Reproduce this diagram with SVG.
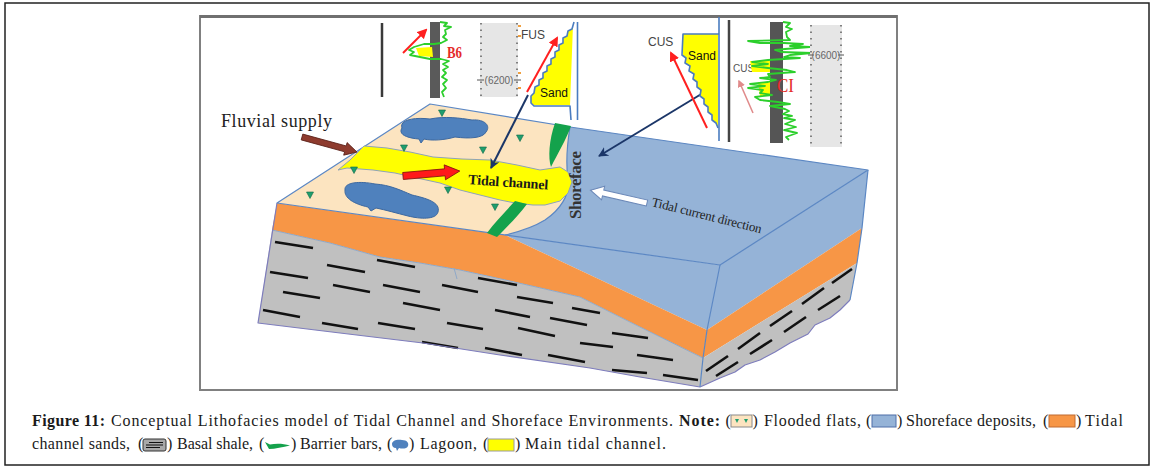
<svg xmlns="http://www.w3.org/2000/svg" width="1159" height="472" viewBox="0 0 1159 472">
<defs>
<style>
.cap{font-family:"Liberation Serif","Times New Roman",serif;font-size:16px;fill:#1a1a1a}
.b{font-weight:bold}
.sans{font-family:"Liberation Sans",Arial,sans-serif}
.ser{font-family:"Liberation Serif","Times New Roman",serif}
.edge{fill:none;stroke:#5b87c4;stroke-width:1.2;stroke-linejoin:round}
.pedge{fill:none;stroke:#7d7cbc;stroke-width:1.2;stroke-linejoin:round}
.dash{stroke:#111;stroke-width:2.6}
.lag{fill:#4f81bd;stroke:#3c68a0;stroke-width:1}
.bar{fill:#14a24c}
.gl{fill:none;stroke:#2ccf2c;stroke-width:1.8;stroke-linejoin:round}
.track{fill:#e6e6e6}
.dots{stroke:#555;stroke-width:1.4;stroke-dasharray:1.5 5}
.blue{fill:none;stroke:#4a7cc0;stroke-width:1.6;stroke-linejoin:round}
.red{stroke:#ff2020;stroke-width:2;fill:none}
.navy{stroke:#1b3668;stroke-width:2;fill:none}
</style>
<marker id="hRed" viewBox="0 0 10 10" refX="8" refY="5" markerWidth="5" markerHeight="5" orient="auto"><path d="M0,0 L10,5 L0,10 Z" fill="#ff2020"/></marker>
<marker id="hPink" viewBox="0 0 10 10" refX="8" refY="5" markerWidth="5" markerHeight="5" orient="auto"><path d="M0,0 L10,5 L0,10 Z" fill="#e08a8a"/></marker>
<marker id="hNavy" viewBox="0 0 10 10" refX="9" refY="5" markerWidth="5" markerHeight="5" orient="auto"><path d="M0,0 L10,5 L0,10 L3,5 Z" fill="#1b3668"/></marker>
<path id="t" d="M-3.5,-3 L3.5,-3 L0,3.5 Z" fill="#1f9e6e" stroke="#0f6a48" stroke-width="0.6"/>
</defs>

<rect x="0" y="0" width="1159" height="472" fill="#ffffff"/>
<rect x="5" y="3" width="1144" height="462" fill="none" stroke="#222" stroke-width="1.5"/>
<g id="frame">
<rect x="200" y="16" width="697" height="374" fill="none" stroke="#808080" stroke-width="2"/>
<line x1="200" y1="16.5" x2="897" y2="16.5" stroke="#707070" stroke-width="3"/>
</g>

<g id="block-front">
<polygon points="505,235 720,265 707,330" fill="#95b3d7"/>
<path d="M277,203 L505,235 L707,330 L703,358 L640,327 L580,297 L545,289 L510,281 L460,270 L420,263 L380,257 L330,243 L272,230 Z" fill="#f79646"/>
<path d="M272,230 L330,243 L380,257 L420,263 L460,270 L510,281 L545,289 L580,297 L640,327 L703,358 L700,387 L640,377 L590,368 L500,355 L423,343 L340,333 L258,323 Z" fill="#c0c0c0"/>
<path d="M272,230 L330,243 L380,257 L420,263 L460,270 L510,281 L545,289 L580,297 L640,327 L703,358" fill="none" stroke="#8fa8c8" stroke-width="1"/>
<line x1="454" y1="268" x2="457" y2="279" stroke="#8fa8c8" stroke-width="1"/>
</g>
<g id="block-side">
<polygon points="720,265 868,170 862,228 707,330" fill="#95b3d7"/>
<polygon points="707,330 862,228 857,263 703,358" fill="#f79646"/>
<path d="M703,358 L857,263 L850,300 L840,310 L830,318 L815,325 L808,334 L790,343 L775,352 L760,360 L745,365 L735,372 L720,378 L700,387 Z" fill="#c0c0c0"/>
</g>
<g id="shale-dashes">
<line class="dash" x1="275" y1="242" x2="313" y2="248"/>
<line class="dash" x1="327" y1="265" x2="365" y2="272"/>
<line class="dash" x1="377" y1="260" x2="415" y2="267"/>
<line class="dash" x1="270" y1="272" x2="308" y2="278"/>
<line class="dash" x1="333" y1="285" x2="370" y2="292"/>
<line class="dash" x1="383" y1="285" x2="420" y2="292"/>
<line class="dash" x1="442" y1="285" x2="478" y2="292"/>
<line class="dash" x1="478" y1="278" x2="517" y2="285"/>
<line class="dash" x1="283" y1="292" x2="320" y2="298"/>
<line class="dash" x1="403" y1="303" x2="440" y2="310"/>
<line class="dash" x1="517" y1="297" x2="553" y2="303"/>
<line class="dash" x1="495" y1="310" x2="530" y2="317"/>
<line class="dash" x1="263" y1="310" x2="300" y2="317"/>
<line class="dash" x1="322" y1="323" x2="358" y2="329"/>
<line class="dash" x1="378" y1="323" x2="415" y2="329"/>
<line class="dash" x1="447" y1="323" x2="483" y2="329"/>
<line class="dash" x1="518" y1="328" x2="555" y2="336"/>
<line class="dash" x1="550" y1="318" x2="587" y2="325"/>
<line class="dash" x1="572" y1="308" x2="600" y2="313"/>
<line class="dash" x1="422" y1="342" x2="458" y2="348"/>
<line class="dash" x1="485" y1="348" x2="522" y2="355"/>
<line class="dash" x1="548" y1="355" x2="585" y2="362"/>
<line class="dash" x1="612" y1="333" x2="648" y2="338"/>
<line class="dash" x1="580" y1="343" x2="613" y2="347"/>
<line class="dash" x1="637" y1="355" x2="673" y2="360"/>
<line class="dash" x1="612" y1="370" x2="647" y2="373"/>
<line class="dash" x1="663" y1="375" x2="698" y2="380"/>
<line class="dash" x1="706" y1="371" x2="728" y2="356"/>
<line class="dash" x1="738" y1="349" x2="760" y2="333"/>
<line class="dash" x1="770" y1="326" x2="792" y2="311"/>
<line class="dash" x1="802" y1="304" x2="824" y2="288"/>
<line class="dash" x1="832" y1="283" x2="852" y2="269"/>
<line class="dash" x1="716" y1="376" x2="738" y2="362"/>
<line class="dash" x1="750" y1="354" x2="772" y2="340"/>
<line class="dash" x1="784" y1="332" x2="806" y2="317"/>
<line class="dash" x1="818" y1="310" x2="840" y2="296"/>
</g>
<g id="block-edges">
<path class="pedge" d="M277,203 L258,323 L340,333 L423,343 L500,355 L590,368 L640,377 L700,387 L720,378 L735,372 L745,365 L760,360 L775,352 L790,343 L808,334 L815,325 L830,318 L840,310 L850,300"/>
<path class="edge" d="M720,265 L707,330 L703,358 L700,387 M868,170 L862,228 L857,263 L850,300"/>
</g>

<g id="top-surface">
<polygon points="277,203 430,104 570,127 868,170 720,265" fill="#fce4c0"/>
<path d="M570,127 L868,170 L720,265 L505,235 C518,232 532,228 545,220 C560,210 570,195 568,180 C566,165 567,145 570,127 Z" fill="#95b3d7"/>
<path class="edge" d="M570,127 C567,145 566,165 568,180 C570,195 560,210 545,220 C532,228 518,232 505,235"/>
<polygon class="edge" points="277,203 430,104 570,127 868,170 720,265"/>
</g>

<g id="tidal-channel">
<path d="M364,146 L387,148 L410,152 L433,157 L462,159 L490,160 L517,165 L540,170 L560,167 L568,172 L572,182 L568,193 L560,201 L545,205 L533,205 L515,203 L500,200 L480,195 L460,190 L440,183 L417,178 L395,173 L373,170 L347,168 L338,170 L350,160 Z" fill="#ffff00" stroke="#8ea3b8" stroke-width="1"/>
</g>
<g id="lagoons">
<path class="lag" d="M402,128 C399,120 414,117 430,119 C445,116 460,118 472,120 C485,119 491,126 486,132 C483,138 470,139 455,137 C445,140 432,141 424,139 L421,143 L419,139 C406,138 398,134 402,128 Z"/>
<path class="lag" d="M345,190 C344,182 360,181 375,184 C390,185 400,190 412,195 C425,198 441,202 438,212 C436,220 420,219 408,216 C396,213 386,210 376,208 L371,211 L368,207 C354,204 344,198 345,190 Z"/>
</g>
<g id="barrier-bars">
<path class="bar" d="M555,123 L571,126 C566,140 558,153 551,167 C548,158 549,140 555,123 Z"/>
<path class="bar" d="M515,201 L527,204 C518,216 506,228 497,237 L487,233 C495,222 505,212 515,201 Z"/>
</g>
<g id="flooded-flat-marks">
<use href="#t" x="442" y="113"/>
<use href="#t" x="520" y="138"/>
<use href="#t" x="404" y="148"/>
<use href="#t" x="483" y="150"/>
<use href="#t" x="354" y="170"/>
<use href="#t" x="448" y="190"/>
<use href="#t" x="310" y="195"/>
<use href="#t" x="495" y="207"/>
</g>

<g id="labels">
<text class="ser" x="221" y="127" font-size="18" fill="#222" textLength="111">Fluvial supply</text>
<text class="ser b" x="468" y="184" font-size="14" fill="#1a1a1a" transform="rotate(4 468 184)" textLength="80">Tidal channel</text>
<text class="ser b" font-size="17" fill="#333" text-anchor="middle" transform="translate(581 185) rotate(-90)" textLength="68">Shoreface</text>
<text class="ser" x="651" y="206" font-size="13" fill="#222" transform="rotate(14 651 206)" textLength="113">Tidal current direction</text>
</g>

<g id="connectors">
<path d="M0,-3 L45,-3 L45,-6.5 L57,0 L45,6.5 L45,3 L0,3 Z" fill="#8e3b2e" stroke="#5a2018" stroke-width="0.8" transform="translate(302 137) rotate(15.3)"/>
<path d="M0,-3.5 L42,-3.5 L42,-7.5 L57,0 L42,7.5 L42,3.5 L0,3.5 Z" fill="#ff1a1a" stroke="#7a1010" stroke-width="0.8" transform="translate(403 176) rotate(-5)"/>
<path d="M0,-3 L45,-3 L45,-7 L58,0 L45,7 L45,3 L0,3 Z" fill="#ffffff" stroke="#6b88b8" stroke-width="1" transform="translate(647 203) rotate(192.8)"/>
<line class="navy" x1="528" y1="95" x2="491" y2="168" marker-end="url(#hNavy)"/>
<line class="navy" x1="703" y1="93" x2="599" y2="156" marker-end="url(#hNavy)"/>
</g>

<g id="log-b6">
<line x1="382" y1="23" x2="382" y2="97" stroke="#3a3a3a" stroke-width="2.5"/>
<line class="red" x1="403" y1="53" x2="426" y2="30" marker-end="url(#hRed)"/>
<rect x="430" y="22" width="10" height="76" fill="#5a5a5a"/>
<polygon points="416,48 432,47 433,57 419,56" fill="#ffff00"/>
<polyline class="gl" points="440,22 447,23 444,26 451,27 445,30 446,34 443,37 447,40 441,43 434,44 424,44 414,47 409,50 414,52 410,55 420,57 430,59 441,59 449,61 443,64 448,67 443,70 446,73 442,77 447,80 443,84 446,88 442,92 444,97"/>
<text class="ser b" x="447" y="58" font-size="16" fill="#e52b2b" textLength="15" lengthAdjust="spacingAndGlyphs">B6</text>
</g>
<g id="track-6200">
<rect class="track" x="480" y="23" width="38" height="74"/>
<line class="dots" x1="481" y1="23" x2="481" y2="97"/>
<line class="dots" x1="517" y1="23" x2="517" y2="97"/>
<line x1="477" y1="80" x2="484" y2="80" stroke="#555" stroke-width="1"/>
<line x1="514" y1="80" x2="521" y2="80" stroke="#555" stroke-width="1"/>
<text class="sans" x="499" y="84" font-size="10" fill="#666" text-anchor="middle">(6200)</text>
<rect x="518" y="25" width="3" height="2" fill="#f0a040"/>
<rect x="518" y="35" width="3" height="2" fill="#f0a040"/>
<rect x="518" y="72" width="3" height="2" fill="#f0a040"/>
<rect x="518" y="87" width="3" height="2" fill="#f0a040"/>
</g>
<g id="log-fus">
<text class="sans" x="521" y="39" font-size="12" fill="#444">FUS</text>
<line class="red" x1="527" y1="92" x2="557" y2="38" marker-end="url(#hRed)"/>
<polygon points="573,25 572,29 568,31 567,36 563,38 563,43 559,45 559,50 555,52 555,57 551,59 551,64 547,66 547,71 543,73 543,78 539,80 539,85 535,87 534,93 531,96 531,103 534,105 570,105" fill="#ffff00"/>
<polyline class="blue" points="574,22 572,29 568,31 567,36 563,38 563,43 559,45 559,50 555,52 555,57 551,59 551,64 547,66 547,71 543,73 543,78 539,80 539,85 535,87 534,93 531,96 531,103 534,106 570,106 571,120"/>
<line x1="577.5" y1="22" x2="577.5" y2="120" stroke="#4a7cc0" stroke-width="1.6"/>
<text class="sans" x="540" y="97" font-size="12" fill="#111">Sand</text>
</g>
<g id="log-cus">
<text class="sans" x="648" y="46" font-size="12" fill="#444">CUS</text>
<polygon points="683,34 718,34 718,128 716,123 712,120 712,115 708,112 708,107 704,104 704,99 700,96 701,90 697,87 697,82 693,79 694,74 689,71 690,66 685,63 686,58 683,55" fill="#ffff00"/>
<polyline class="blue" points="719,34 683,34 682,55 686,58 685,63 690,66 689,71 694,74 693,79 697,82 697,87 701,90 700,96 704,99 704,104 708,107 708,112 712,115 712,120 716,123 718,128"/>
<line x1="719" y1="17" x2="719" y2="141" stroke="#4a7cc0" stroke-width="1.6"/>
<line x1="729" y1="20" x2="729" y2="142" stroke="#444" stroke-width="2.5"/>
<line class="red" x1="707" y1="128" x2="671" y2="53" marker-end="url(#hRed)"/>
<text class="sans" x="688" y="60" font-size="12" fill="#111">Sand</text>
</g>
<g id="log-ci">
<text class="sans" x="733" y="72" font-size="10" fill="#555">CUS</text>
<line x1="753" y1="113" x2="739" y2="81" stroke="#e08a8a" stroke-width="1.5" marker-end="url(#hPink)"/>
<rect x="770" y="22" width="13" height="121" fill="#555"/>
<polygon points="750,61 770,61 770,72 752,72" fill="#ffff00"/>
<polygon points="758,82 770,82 770,96 760,96" fill="#ffff00"/>
<polyline class="gl" points="783,22 790,23 786,27 792,29 786,32 787,37 790,40 748,41 760,43 784,43 803,44 790,46 810,47 785,49 775,50 781,52 812,53 790,55 784,57 800,58 768,60 752,62 768,64 752,66 768,68 787,70 795,72 768,74 770,77 760,78 776,80 768,82 750,84 765,86 748,88 763,90 760,93 772,95 755,97 760,100 778,102 790,104 770,106 785,109 789,111 783,114 792,116 784,118 795,120 785,124 796,127 784,130 797,133 786,137 789,140"/>
<text class="ser" x="777" y="92" font-size="18" fill="#e52b2b" textLength="17" lengthAdjust="spacingAndGlyphs">CI</text>
</g>
<g id="track-6600">
<rect class="track" x="810" y="25" width="32" height="122"/>
<line class="dots" x1="811" y1="25" x2="811" y2="147"/>
<line class="dots" x1="841" y1="25" x2="841" y2="147"/>
<line x1="808" y1="55" x2="814" y2="55" stroke="#555" stroke-width="1"/>
<line x1="838" y1="55" x2="844" y2="55" stroke="#555" stroke-width="1"/>
<text class="sans" x="826" y="59" font-size="10" fill="#666" text-anchor="middle">(6600)</text>
</g>

<g id="caption">
<text class="cap b" x="32" y="426" textLength="73">Figure 11:</text>
<text class="cap" x="111" y="426" textLength="562">Conceptual Lithofacies model of Tidal Channel and Shoreface Environments.</text>
<text class="cap b" x="679" y="426" textLength="41">Note:</text>
<text class="cap" x="725.5" y="426">(</text>
<rect x="731" y="415" width="21" height="12" fill="#fce4c0" stroke="#8a8a8a" stroke-width="1"/>
<path d="M735,419 L739,419 L737,423 Z M744,419 L748,419 L746,423 Z" fill="#1f9e6e"/>
<text class="cap" x="752.5" y="426">)</text>
<text class="cap" x="764" y="426" textLength="97">Flooded flats,</text>
<text class="cap" x="866" y="426">(</text>
<rect x="872" y="415" width="24" height="12" fill="#95b3d7" stroke="#4f6fa8" stroke-width="1"/>
<text class="cap" x="897" y="426">)</text>
<text class="cap" x="906" y="426" textLength="130">Shoreface deposits,</text>
<text class="cap" x="1043" y="426">(</text>
<rect x="1049" y="415" width="26" height="12" fill="#f79646" stroke="#c06a30" stroke-width="1"/>
<text class="cap" x="1076" y="426">)</text>
<text class="cap" x="1085" y="426" textLength="38">Tidal</text>

<text class="cap" x="32" y="449" textLength="98">channel sands,</text>
<text class="cap" x="138" y="449">(</text>
<rect x="143" y="439" width="23" height="12" rx="2" fill="#a8a8a8" stroke="#333" stroke-width="1"/>
<path d="M149,442.5 H163 M146,445 H163 M146,447.5 H160" stroke="#111" stroke-width="1.2"/>
<text class="cap" x="167" y="449">)</text>
<text class="cap" x="177" y="449" textLength="76">Basal shale,</text>
<text class="cap" x="259" y="449">(</text>
<path d="M265,442 L270,444.5 C276,443.5 283,443.5 290,445.5 C283,447 275,449 269,449 Z" fill="#14a24c"/>
<text class="cap" x="291" y="449">)</text>
<text class="cap" x="300" y="449" textLength="82">Barrier bars,</text>
<text class="cap" x="387" y="449">(</text>
<path d="M392,444 C392,440 398,439 402,440 C407,440 409,443 408,446 C407,449 402,449 399,448 L397,451 L396,448 C393,448 392,446 392,444 Z" fill="#4f81bd"/>
<text class="cap" x="409" y="449">)</text>
<text class="cap" x="420" y="449" textLength="57">Lagoon,</text>
<text class="cap" x="483" y="449">(</text>
<rect x="488" y="439" width="26" height="12" fill="#ffff00" stroke="#9a9a9a" stroke-width="1"/>
<text class="cap" x="515" y="449">)</text>
<text class="cap" x="525" y="449" textLength="141">Main tidal channel.</text>
</g>
</svg>
